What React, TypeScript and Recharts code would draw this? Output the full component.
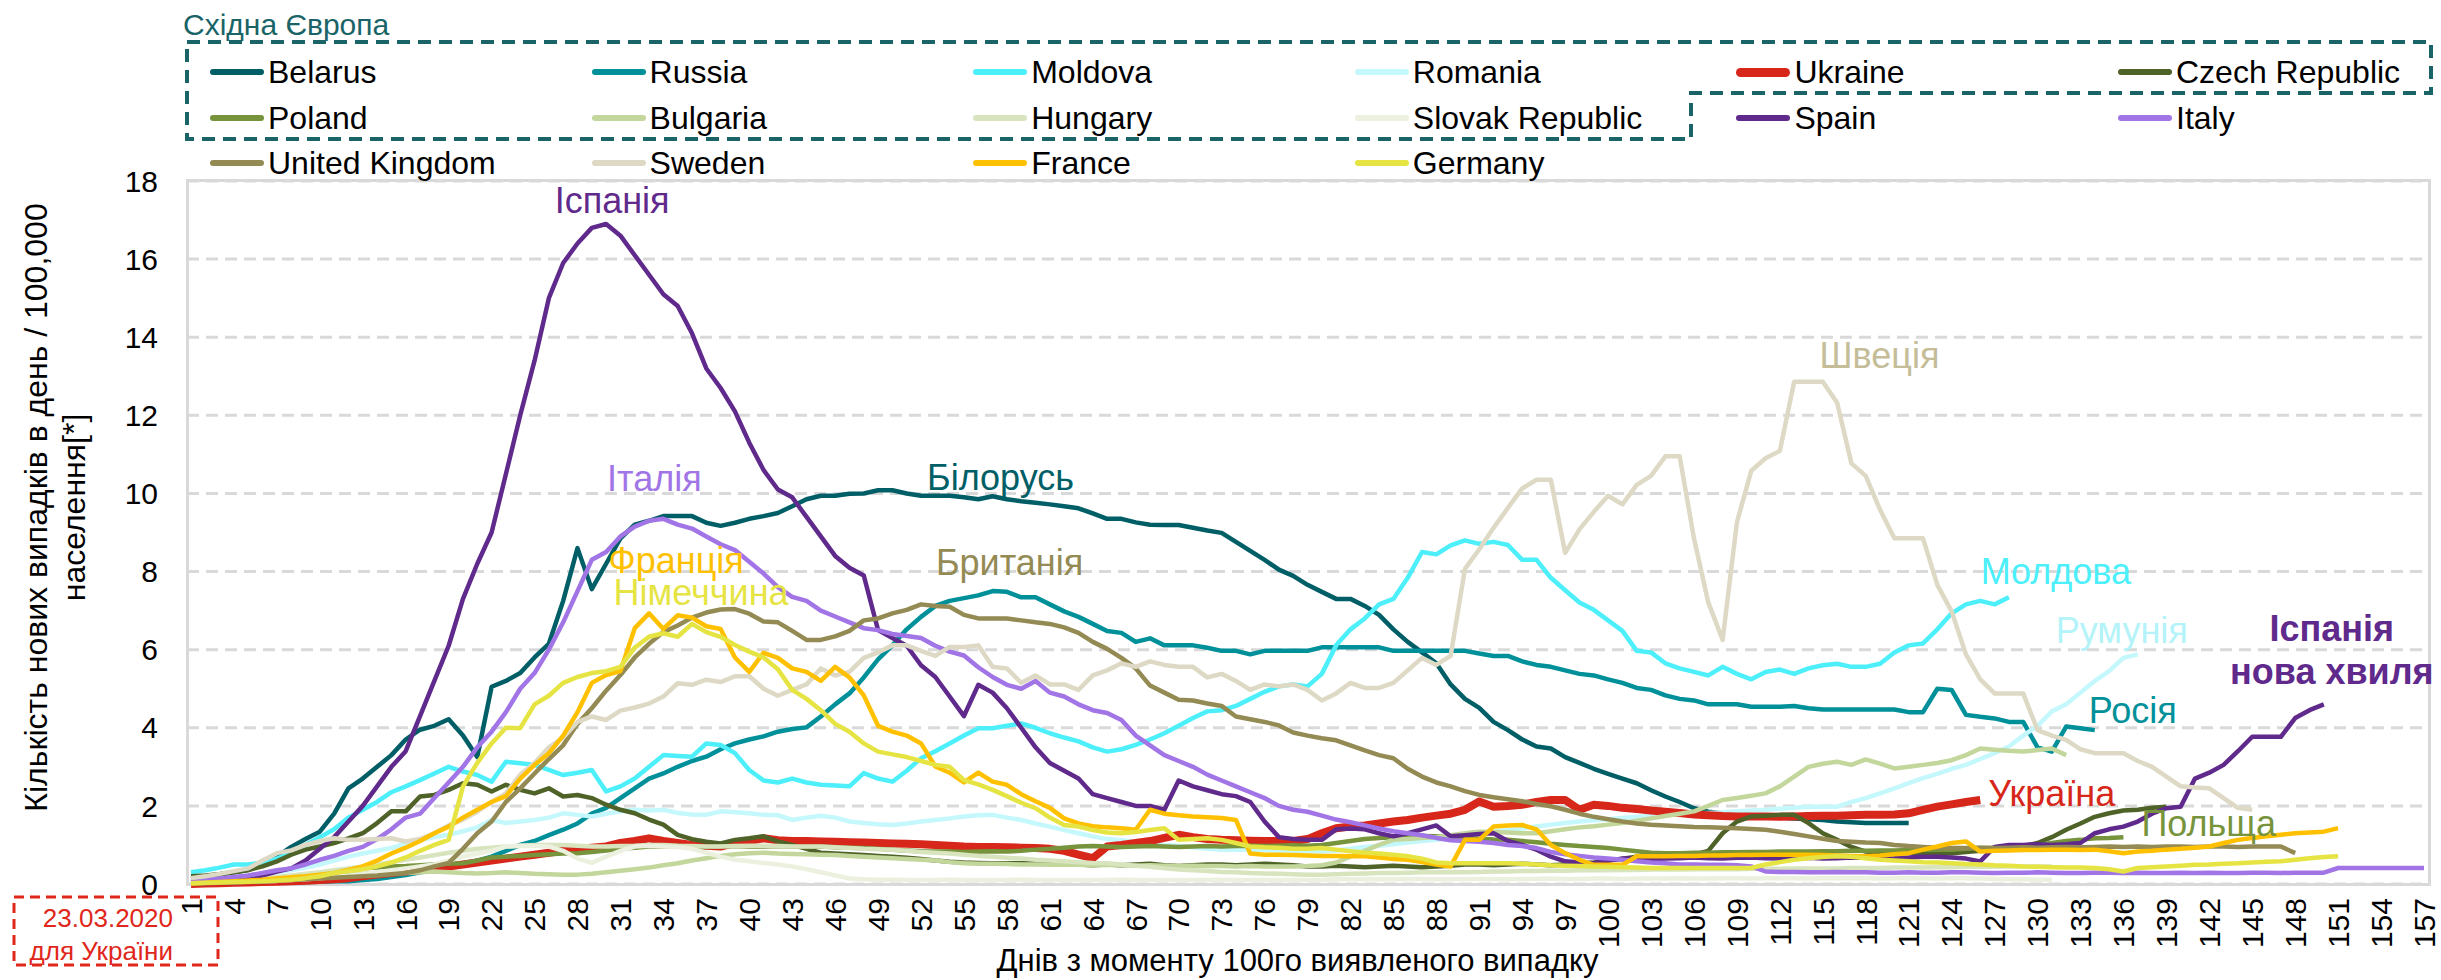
import React from 'react';
import { LineChart, Line, XAxis, YAxis, CartesianGrid, Legend, ReferenceDot } from 'recharts';

const FONT = '"Liberation Sans", Arial, sans-serif';

// new cases per day per 100,000 people, day 1 = day of the 100th case
const belarus = [0.15,0.2,0.25,0.3,0.36,0.5,0.7,0.95,1.15,1.34,1.8,2.45,2.7,3.0,3.3,3.7,3.95,4.05,4.22,3.8,3.25,5.05,5.2,5.4,5.8,6.15,7.25,8.6,7.55,8.2,8.85,9.2,9.3,9.42,9.42,9.42,9.25,9.17,9.25,9.35,9.42,9.5,9.67,9.85,9.94,9.94,9.99,10.0,10.08,10.08,10.0,9.94,9.94,9.94,9.9,9.85,9.93,9.85,9.8,9.76,9.72,9.67,9.62,9.49,9.35,9.35,9.26,9.2,9.19,9.19,9.12,9.05,8.99,8.76,8.53,8.3,8.05,7.89,7.66,7.48,7.3,7.3,7.12,6.89,6.52,6.2,5.93,5.65,5.11,4.74,4.51,4.15,3.94,3.7,3.52,3.47,3.25,3.1,2.95,2.82,2.7,2.58,2.4,2.24,2.1,1.94,1.85,1.81,1.78,1.75,1.73,1.7,1.68,1.66,1.64,1.6,1.58,1.56,1.56,1.56,1.56];
const russia = [0.03,0.03,0.03,0.03,0.04,0.04,0.05,0.05,0.05,0.06,0.07,0.07,0.1,0.13,0.18,0.23,0.3,0.36,0.42,0.5,0.6,0.7,0.85,1.0,1.1,1.25,1.39,1.55,1.8,1.95,2.2,2.45,2.7,2.83,3.0,3.15,3.26,3.45,3.6,3.7,3.78,3.9,3.97,4.01,4.29,4.6,4.88,5.29,5.75,6.11,6.52,6.84,7.12,7.25,7.32,7.39,7.5,7.48,7.34,7.34,7.16,6.98,6.84,6.66,6.48,6.43,6.2,6.29,6.11,6.11,6.11,6.05,5.97,5.97,5.88,5.97,5.97,5.97,5.97,6.06,6.06,6.06,6.06,6.06,5.97,5.97,5.97,5.97,5.97,5.97,5.9,5.84,5.84,5.7,5.61,5.56,5.47,5.38,5.34,5.24,5.15,5.02,4.97,4.83,4.74,4.7,4.6,4.6,4.6,4.54,4.54,4.54,4.56,4.5,4.47,4.47,4.47,4.47,4.47,4.47,4.4,4.4,5.0,4.97,4.33,4.28,4.24,4.15,4.15,3.5,3.39,4.03,3.99,3.94];
const moldova = [0.3,0.35,0.42,0.5,0.5,0.55,0.65,0.8,1.0,1.2,1.4,1.7,1.9,2.1,2.35,2.5,2.66,2.83,3.0,2.88,2.79,2.62,3.13,3.09,3.05,2.92,2.79,2.85,2.92,2.37,2.5,2.7,3.0,3.3,3.28,3.26,3.6,3.56,3.35,2.92,2.65,2.6,2.7,2.6,2.54,2.52,2.5,2.84,2.7,2.62,2.9,3.22,3.4,3.6,3.8,3.99,3.99,4.05,4.11,4.0,3.86,3.75,3.65,3.5,3.39,3.45,3.56,3.7,3.86,4.05,4.25,4.42,4.45,4.56,4.74,4.92,5.06,5.11,5.06,5.38,6.11,6.52,6.8,7.16,7.3,7.84,8.5,8.44,8.67,8.8,8.71,8.76,8.68,8.3,8.3,7.84,7.52,7.21,7.02,6.75,6.48,5.97,5.93,5.65,5.52,5.43,5.34,5.56,5.38,5.24,5.43,5.49,5.38,5.52,5.6,5.64,5.56,5.56,5.64,5.93,6.11,6.16,6.52,6.93,7.16,7.25,7.16,7.34];
const romania = [0.05,0.08,0.1,0.15,0.2,0.25,0.3,0.35,0.42,0.5,0.6,0.7,0.78,0.85,0.92,1.04,1.12,1.2,1.26,1.35,1.45,1.64,1.56,1.6,1.64,1.7,1.81,1.77,1.73,1.8,1.86,1.9,1.88,1.9,1.82,1.78,1.77,1.86,1.84,1.81,1.77,1.76,1.64,1.7,1.75,1.7,1.6,1.56,1.53,1.51,1.55,1.6,1.64,1.68,1.73,1.76,1.77,1.7,1.64,1.55,1.47,1.38,1.3,1.22,1.15,1.12,1.08,1.05,1.0,0.97,0.94,0.9,0.88,0.88,0.88,0.87,0.86,0.85,0.84,0.83,0.86,0.9,0.95,0.98,1.02,1.06,1.1,1.13,1.18,1.24,1.3,1.34,1.38,1.42,1.47,1.52,1.56,1.6,1.63,1.66,1.69,1.72,1.75,1.77,1.79,1.8,1.82,1.84,1.86,1.88,1.9,1.93,1.95,1.98,1.98,1.98,2.1,2.2,2.32,2.45,2.58,2.71,2.82,2.95,3.05,3.2,3.35,3.52,3.8,4.05,4.42,4.6,4.9,5.2,5.45,5.79,5.88];
const ukraine = [0.0,0.01,0.02,0.03,0.04,0.05,0.06,0.07,0.08,0.1,0.12,0.15,0.2,0.24,0.28,0.32,0.36,0.4,0.45,0.5,0.55,0.6,0.65,0.7,0.75,0.8,0.85,0.9,0.93,0.96,1.05,1.1,1.17,1.1,1.05,1.0,0.98,0.96,1.05,1.1,1.17,1.12,1.1,1.1,1.09,1.08,1.07,1.06,1.05,1.04,1.03,1.02,1.0,0.98,0.96,0.95,0.95,0.94,0.93,0.92,0.9,0.85,0.75,0.66,0.96,1.0,1.05,1.1,1.18,1.26,1.2,1.15,1.13,1.12,1.11,1.1,1.1,1.1,1.15,1.3,1.43,1.47,1.5,1.55,1.6,1.64,1.7,1.75,1.8,1.9,2.11,1.98,2.0,2.03,2.1,2.15,2.15,1.9,2.03,2.0,1.95,1.92,1.88,1.85,1.82,1.78,1.76,1.74,1.73,1.73,1.73,1.72,1.73,1.74,1.75,1.75,1.76,1.77,1.77,1.78,1.81,1.9,1.98,2.04,2.1,2.15];
const czech = [0.2,0.22,0.25,0.3,0.36,0.45,0.58,0.75,0.88,0.96,1.05,1.17,1.3,1.56,1.86,1.86,2.24,2.28,2.41,2.58,2.54,2.37,2.54,2.41,2.32,2.45,2.24,2.28,2.2,2.03,1.9,1.81,1.65,1.52,1.26,1.15,1.08,1.04,1.13,1.17,1.22,1.09,1.0,0.9,0.8,0.78,0.76,0.74,0.72,0.7,0.67,0.64,0.6,0.57,0.55,0.54,0.53,0.53,0.53,0.53,0.52,0.5,0.5,0.48,0.5,0.48,0.5,0.52,0.48,0.46,0.48,0.5,0.5,0.48,0.5,0.52,0.5,0.48,0.45,0.45,0.47,0.45,0.43,0.45,0.47,0.45,0.43,0.45,0.47,0.5,0.5,0.48,0.5,0.52,0.5,0.48,0.5,0.52,0.55,0.6,0.65,0.7,0.72,0.74,0.75,0.75,0.85,1.3,1.6,1.73,1.75,1.77,1.77,1.56,1.3,1.13,0.95,0.83,0.8,0.8,0.8,0.79,0.8,0.79,0.82,0.85,0.88,0.92,0.96,1.05,1.2,1.39,1.55,1.72,1.81,1.88,1.9,1.95,1.98];
const poland = [0.02,0.03,0.05,0.07,0.1,0.13,0.16,0.2,0.24,0.28,0.32,0.36,0.4,0.42,0.45,0.46,0.48,0.5,0.52,0.53,0.6,0.68,0.7,0.72,0.74,0.76,0.78,0.79,0.82,0.86,0.9,0.93,0.96,0.96,0.97,0.96,0.95,0.96,0.97,0.96,0.96,0.97,0.96,0.95,0.96,0.94,0.93,0.92,0.9,0.88,0.86,0.84,0.83,0.83,0.82,0.83,0.84,0.83,0.85,0.88,0.9,0.93,0.96,0.97,0.96,0.95,0.96,0.97,0.96,0.95,0.96,0.97,0.96,0.97,0.98,0.97,0.98,0.99,0.98,1.0,1.05,1.1,1.15,1.18,1.2,1.22,1.23,1.22,1.2,1.18,1.16,1.14,1.13,1.1,1.07,1.03,1.0,0.97,0.95,0.92,0.88,0.84,0.8,0.79,0.79,0.8,0.8,0.81,0.81,0.82,0.82,0.83,0.83,0.83,0.84,0.84,0.85,0.85,0.86,0.86,0.87,0.87,0.88,0.88,0.9,0.92,0.93,0.95,0.96,1.0,1.05,1.1,1.13,1.17,1.18,1.2];
const bulgaria = [0.05,0.06,0.07,0.08,0.1,0.12,0.14,0.16,0.18,0.2,0.22,0.24,0.26,0.27,0.28,0.28,0.3,0.32,0.3,0.28,0.27,0.28,0.3,0.28,0.26,0.25,0.24,0.24,0.26,0.3,0.34,0.38,0.42,0.48,0.53,0.6,0.66,0.72,0.76,0.79,0.8,0.78,0.77,0.76,0.75,0.74,0.72,0.7,0.68,0.66,0.64,0.62,0.6,0.56,0.53,0.52,0.52,0.51,0.5,0.5,0.49,0.5,0.49,0.48,0.49,0.48,0.47,0.48,0.47,0.46,0.47,0.46,0.46,0.45,0.46,0.45,0.45,0.45,0.46,0.48,0.55,0.7,0.85,1.0,1.13,1.15,1.18,1.2,1.25,1.3,1.34,1.33,1.32,1.3,1.3,1.35,1.4,1.45,1.48,1.52,1.56,1.62,1.68,1.74,1.8,1.86,2.0,2.15,2.2,2.26,2.32,2.5,2.75,3.0,3.08,3.13,3.05,3.19,3.08,2.96,3.0,3.05,3.1,3.17,3.3,3.47,3.44,3.41,3.39,3.43,3.47,3.3];
const hungary = [0.05,0.06,0.08,0.1,0.12,0.15,0.18,0.22,0.26,0.3,0.35,0.4,0.45,0.5,0.56,0.62,0.68,0.74,0.8,0.85,0.9,0.93,0.96,0.98,1.0,1.0,1.0,0.98,0.96,0.96,0.97,0.98,1.0,1.0,0.98,0.97,0.96,0.96,0.97,0.98,0.98,0.97,0.96,0.96,0.96,0.94,0.92,0.9,0.89,0.88,0.85,0.82,0.8,0.78,0.75,0.72,0.7,0.67,0.65,0.62,0.6,0.58,0.56,0.54,0.53,0.5,0.47,0.44,0.4,0.37,0.35,0.33,0.31,0.3,0.28,0.27,0.26,0.25,0.24,0.24,0.25,0.26,0.27,0.28,0.28,0.29,0.3,0.3,0.31,0.3,0.31,0.32,0.32,0.33,0.33,0.34,0.34,0.35,0.35,0.35,0.36,0.36,0.37,0.37,0.37,0.38,0.38,0.38,0.38,0.39,0.39,0.39,0.4,0.4,0.4,0.4,0.41,0.41,0.41,0.42,0.42,0.42,0.43,0.43,0.44,0.44,0.44,0.45,0.45,0.45,0.45];
const slovakia = [0.02,0.03,0.04,0.05,0.06,0.07,0.08,0.1,0.12,0.15,0.18,0.21,0.25,0.3,0.35,0.4,0.45,0.5,0.6,0.7,0.78,0.85,0.96,0.98,0.97,0.96,0.85,0.65,0.54,0.7,0.85,0.96,0.98,0.96,0.95,0.9,0.8,0.7,0.62,0.58,0.54,0.5,0.45,0.38,0.3,0.22,0.14,0.12,0.11,0.11,0.1,0.1,0.1,0.11,0.1,0.1,0.1,0.1,0.11,0.1,0.1,0.1,0.1,0.1,0.1,0.11,0.1,0.1,0.1,0.1,0.1,0.1,0.11,0.1,0.1,0.1,0.1,0.1,0.1,0.1,0.12,0.12,0.13,0.12,0.12,0.13,0.13,0.12,0.12,0.13,0.13,0.13,0.12,0.13,0.13,0.14,0.13,0.13,0.14,0.14,0.13,0.14,0.14,0.14,0.15,0.14,0.14,0.15,0.15,0.14,0.15,0.15,0.15,0.14,0.15,0.15,0.15,0.15,0.14,0.15,0.15,0.15,0.14,0.15,0.15,0.14,0.13,0.12,0.12,0.11,0.11];
const spain = [0.03,0.05,0.08,0.1,0.15,0.22,0.32,0.4,0.6,0.9,1.2,1.6,2.0,2.5,3.0,3.4,4.3,5.2,6.1,7.3,8.2,9.0,10.5,12.0,13.4,15.0,15.9,16.4,16.8,16.9,16.6,16.1,15.6,15.1,14.8,14.1,13.2,12.7,12.1,11.3,10.6,10.1,9.9,9.4,8.9,8.4,8.1,7.9,6.5,6.3,6.1,5.6,5.3,4.8,4.3,5.1,4.9,4.5,4.0,3.5,3.1,2.9,2.7,2.3,2.2,2.1,2.0,2.0,1.9,2.65,2.5,2.4,2.3,2.25,2.1,1.6,1.2,1.15,1.13,1.13,1.4,1.42,1.4,1.3,1.22,1.3,1.4,1.5,1.22,1.25,1.28,1.3,1.1,1.0,0.88,0.7,0.58,0.55,0.53,0.6,0.65,0.66,0.64,0.65,0.66,0.68,0.66,0.65,0.67,0.68,0.66,0.65,0.66,0.67,0.65,0.66,0.68,0.67,0.65,0.66,0.68,0.7,0.7,0.68,0.65,0.58,0.95,1.0,1.0,1.02,1.0,1.02,1.05,1.3,1.4,1.47,1.6,1.8,1.94,1.98,2.7,2.85,3.05,3.4,3.77,3.77,3.77,4.25,4.45,4.6];
const italy = [0.07,0.1,0.14,0.18,0.22,0.28,0.35,0.4,0.5,0.62,0.72,0.85,0.95,1.15,1.4,1.7,1.8,2.2,2.6,3.0,3.5,3.9,4.4,5.0,5.4,6.0,6.7,7.5,8.3,8.5,8.9,9.15,9.3,9.35,9.2,9.1,8.9,8.7,8.55,8.25,7.95,7.6,7.35,7.25,7.0,6.85,6.7,6.55,6.5,6.4,6.35,6.3,6.1,5.95,5.85,5.55,5.3,5.1,5.0,5.2,4.9,4.8,4.6,4.45,4.38,4.2,3.8,3.55,3.3,3.15,3.0,2.8,2.65,2.5,2.35,2.2,2.0,1.9,1.85,1.75,1.65,1.58,1.5,1.42,1.35,1.3,1.25,1.18,1.12,1.1,1.08,1.05,1.0,0.97,0.92,0.82,0.76,0.72,0.68,0.65,0.62,0.58,0.55,0.53,0.5,0.5,0.49,0.49,0.48,0.45,0.32,0.31,0.31,0.3,0.3,0.31,0.3,0.3,0.29,0.29,0.3,0.29,0.29,0.3,0.3,0.29,0.28,0.29,0.29,0.3,0.29,0.28,0.28,0.29,0.29,0.28,0.29,0.28,0.28,0.29,0.28,0.29,0.28,0.28,0.29,0.29,0.28,0.29,0.29,0.29,0.41,0.41,0.41,0.41,0.41,0.41,0.41];
const uk = [0.01,0.02,0.03,0.04,0.05,0.06,0.08,0.1,0.12,0.14,0.16,0.18,0.2,0.22,0.25,0.28,0.35,0.45,0.54,0.9,1.3,1.6,2.1,2.45,2.83,3.2,3.55,4.1,4.5,4.95,5.35,5.8,6.15,6.45,6.62,6.82,6.95,7.03,7.04,6.92,6.72,6.7,6.48,6.25,6.25,6.34,6.48,6.75,6.8,6.93,7.02,7.16,7.12,7.1,6.89,6.8,6.8,6.8,6.75,6.7,6.66,6.57,6.43,6.2,6.02,5.79,5.52,5.08,4.9,4.72,4.7,4.62,4.56,4.29,4.22,4.15,4.06,3.88,3.8,3.73,3.68,3.55,3.42,3.3,3.22,2.95,2.75,2.6,2.5,2.38,2.28,2.22,2.17,2.12,2.05,1.99,1.9,1.8,1.72,1.66,1.6,1.55,1.52,1.5,1.48,1.46,1.45,1.44,1.43,1.41,1.39,1.34,1.28,1.22,1.16,1.1,1.08,1.06,1.05,1.0,0.97,0.95,0.93,0.92,0.92,0.93,0.92,0.93,0.94,0.93,0.94,0.95,0.94,0.95,0.96,0.95,0.96,0.95,0.96,0.96,0.95,0.96,0.96,0.95,0.96,0.96,0.96,0.79];
const sweden = [0.15,0.2,0.26,0.33,0.4,0.6,0.79,0.86,1.0,1.1,1.17,1.13,1.13,1.15,1.17,1.09,1.15,1.3,1.5,1.65,1.85,2.1,2.32,2.8,3.1,3.5,3.75,4.15,4.29,4.2,4.44,4.52,4.62,4.8,5.14,5.1,5.23,5.17,5.32,5.32,5.0,4.82,4.97,5.11,5.52,5.34,5.43,5.79,5.93,6.11,6.11,5.97,5.84,6.07,6.07,6.11,5.56,5.52,5.15,5.34,5.11,5.11,4.97,5.34,5.47,5.65,5.56,5.7,5.61,5.56,5.56,5.29,5.38,5.2,4.97,5.11,5.06,5.11,4.97,4.7,4.88,5.15,5.02,5.02,5.15,5.47,5.79,5.61,5.84,8.07,8.57,9.12,9.63,10.13,10.35,10.35,8.48,9.08,9.53,9.94,9.72,10.22,10.45,10.95,10.95,8.85,7.21,6.25,9.26,10.58,10.9,11.09,12.86,12.86,12.86,12.32,10.77,10.45,9.58,8.85,8.85,8.85,7.66,6.98,5.88,5.24,4.88,4.88,4.88,3.94,3.8,3.69,3.45,3.35,3.35,3.35,3.15,3.0,2.75,2.5,2.47,2.45,2.2,1.95,1.9];
const france = [0.02,0.03,0.05,0.07,0.09,0.11,0.14,0.17,0.2,0.24,0.28,0.36,0.45,0.6,0.78,0.93,1.1,1.3,1.47,1.7,1.9,2.1,2.25,2.7,3.05,3.35,3.8,4.4,5.15,5.35,5.45,6.55,6.93,6.53,6.88,6.82,6.6,6.53,5.8,5.43,5.92,5.79,5.52,5.43,5.2,5.56,5.29,4.83,4.05,3.9,3.8,3.6,3.01,2.85,2.6,2.85,2.62,2.54,2.3,2.12,1.95,1.68,1.55,1.48,1.45,1.43,1.39,1.9,1.8,1.76,1.73,1.71,1.69,1.64,0.78,0.75,0.75,0.74,0.73,0.72,0.72,0.71,0.71,0.68,0.64,0.62,0.56,0.5,0.45,1.13,1.13,1.47,1.5,1.51,1.4,1.0,0.79,0.62,0.49,0.49,0.49,0.71,0.71,0.71,0.72,0.72,0.73,0.73,0.74,0.74,0.75,0.75,0.75,0.75,0.74,0.73,0.72,0.71,0.73,0.76,0.79,0.88,0.96,1.05,1.09,0.83,0.85,0.86,0.87,0.87,0.88,0.88,0.87,0.88,0.84,0.79,0.83,0.85,0.88,0.9,0.93,0.96,1.05,1.13,1.18,1.22,1.26,1.3,1.32,1.34,1.43];
const germany = [0.02,0.03,0.04,0.05,0.06,0.07,0.09,0.11,0.15,0.2,0.28,0.33,0.38,0.45,0.55,0.68,0.85,1.0,1.13,2.5,3.1,3.6,4.0,3.99,4.6,4.82,5.15,5.3,5.4,5.45,5.56,6.05,6.33,6.42,6.33,6.66,6.45,6.33,6.12,5.95,5.8,5.5,4.97,4.74,4.45,4.1,3.9,3.6,3.39,3.32,3.25,3.15,3.05,3.0,2.66,2.55,2.41,2.25,2.08,1.94,1.7,1.51,1.47,1.38,1.32,1.3,1.33,1.38,1.43,1.13,1.15,1.17,1.13,1.05,0.96,0.94,0.93,0.9,0.9,0.92,0.88,0.84,0.8,0.78,0.75,0.71,0.65,0.55,0.53,0.53,0.53,0.53,0.53,0.52,0.5,0.48,0.47,0.46,0.45,0.44,0.43,0.42,0.41,0.41,0.41,0.41,0.41,0.41,0.41,0.41,0.5,0.56,0.62,0.66,0.69,0.71,0.7,0.66,0.62,0.6,0.58,0.56,0.55,0.53,0.51,0.5,0.48,0.47,0.45,0.44,0.43,0.42,0.42,0.41,0.38,0.32,0.41,0.43,0.45,0.47,0.49,0.5,0.52,0.53,0.55,0.57,0.58,0.62,0.66,0.69,0.71];

const series = [
  { name: 'Belarus', color: '#005E66', values: belarus },
  { name: 'Russia', color: '#00909A', values: russia },
  { name: 'Moldova', color: '#4CEFFA', values: moldova },
  { name: 'Romania', color: '#C5F8FC', values: romania },
  { name: 'Ukraine', color: '#D7261A', values: ukraine, width: 8 },
  { name: 'Czech Republic', color: '#4F6228', values: czech },
  { name: 'Poland', color: '#77933C', values: poland },
  { name: 'Bulgaria', color: '#C3D69B', values: bulgaria },
  { name: 'Hungary', color: '#D7E4BD', values: hungary },
  { name: 'Slovak Republic', color: '#EBF1DE', values: slovakia },
  { name: 'Spain', color: '#5F2A8C', values: spain },
  { name: 'Italy', color: '#A275E6', values: italy },
  { name: 'United Kingdom', color: '#948A54', values: uk },
  { name: 'Sweden', color: '#DDD9C4', values: sweden },
  { name: 'France', color: '#FFC000', values: france },
  { name: 'Germany', color: '#E5E443', values: germany },
];

const days = Array.from({ length: 157 }, (_, i) => i + 1);
const dayTicks = days.filter((d) => (d - 1) % 3 === 0);
const valueTicks = [0, 2, 4, 6, 8, 10, 12, 14, 16, 18];

const data = days.map((day, i) => {
  const row: Record<string, number | null> = { day };
  series.forEach((s) => {
    row[s.name] = i < s.values.length ? s.values[i] : null;
  });
  return row;
});

// labels written next to the lines, anchored on a point of the series
type Note = { key: string; day: number; text: string[]; dx: number; dy: number; color: string; anchor?: string; bold?: boolean };
const notes: Note[] = [
  { key: 'Spain', day: 30, text: ['Іспанія'], dx: 6, dy: -11, color: '#5F2A8C' },
  { key: 'Italy', day: 34, text: ['Італія'], dx: -9, dy: -28, color: '#A275E6' },
  { key: 'Belarus', day: 57, text: ['Білорусь'], dx: 8, dy: -6, color: '#005E66' },
  { key: 'United Kingdom', day: 57, text: ['Британія'], dx: 17, dy: -43, color: '#948A54' },
  { key: 'France', day: 33, text: ['Франція'], dx: 27, dy: -40, color: '#FFC000' },
  { key: 'Germany', day: 36, text: ['Німеччина'], dx: 9, dy: -19, color: '#E5E443' },
  { key: 'Sweden', day: 114, text: ['Швеція'], dx: 71, dy: -14, color: '#C4BD97' },
  { key: 'Moldova', day: 128, text: ['Молдова'], dx: 47, dy: -13, color: '#4CEFFA' },
  { key: 'Romania', day: 137, text: ['Румунія'], dx: -16, dy: -11, color: '#B3F3F9' },
  { key: 'Russia', day: 134, text: ['Росія'], dx: 38, dy: -7, color: '#00909A' },
  { key: 'Ukraine', day: 126, text: ['Україна'], dx: 8, dy: 6, color: '#D7261A', anchor: 'start' },
  { key: 'Poland', day: 136, text: ['Польща'], dx: 18, dy: -1, color: '#77933C', anchor: 'start' },
  { key: 'Spain', day: 150, text: ['Іспанія', 'нова хвиля'], dx: 8, dy: -63, color: '#5F2A8C', bold: true },
];

const renderNote = (n: Note) => (p: any) => {
  const vb = p.viewBox || {};
  const cx = (vb.x ?? 0) + (vb.width ?? 0) / 2 + n.dx;
  const cy = (vb.y ?? 0) + (vb.height ?? 0) / 2 + n.dy;
  return (
    <text x={cx} y={cy} textAnchor={n.anchor || 'middle'} fontSize={36} fontWeight={n.bold ? 700 : 400} fill={n.color} fontFamily={FONT}>
      {n.text.map((t, k) => (
        <tspan key={k} x={cx} dy={k === 0 ? 0 : 43}>{t}</tspan>
      ))}
    </text>
  );
};

const XTick = (p: any) => {
  const { x, y, payload } = p;
  return (
    <text x={x} y={y} transform={`rotate(-90 ${x} ${y})`} textAnchor="end" dy="0.36em" fontSize={30} fill="#000" fontFamily={FONT}>
      {payload.value}
    </text>
  );
};

const YTitle = (p: any) => {
  const vb = p.viewBox || { x: 100, y: 181, width: 87, height: 703 };
  const cy = vb.y + vb.height / 2 - 25;
  const x1 = vb.x - 53;
  const x2 = vb.x - 15;
  return (
    <g fontSize={32} fill="#000" fontFamily={FONT} textAnchor="middle">
      <text x={x1} y={cy} transform={`rotate(-90 ${x1} ${cy})`}>Кількість нових випадків в день / 100,000</text>
      <text x={x2} y={cy} transform={`rotate(-90 ${x2} ${cy})`}>населення[*]</text>
    </g>
  );
};

const XTitle = (p: any) => {
  const vb = p.viewBox || { x: 187, y: 884, width: 2243, height: 96 };
  return (
    <text x={vb.x + vb.width / 2 - 11} y={vb.y + 87} textAnchor="middle" fontSize={31} fill="#000" fontFamily={FONT}>
      Днів з моменту 100го виявленого випадку
    </text>
  );
};

const LegendBlock = (props: any) => {
  const order = series.map((s) => s.name);
  const items = [...(props.payload || [])].sort((a: any, b: any) => order.indexOf(a.value) - order.indexOf(b.value));
  return (
    <div style={{ position: 'relative', width: 2441, height: 180, fontFamily: FONT }}>
      <svg width={2441} height={180} style={{ position: 'absolute', left: 0, top: 0 }}>
        <text x={183} y={35} fontSize={30} fill="#1A6467" fontFamily={FONT}>Східна Європа</text>
        <path d="M187 42 H2431 V93 H1691 V139 H187 Z" fill="none" stroke="#1A6467" strokeWidth={4} strokeDasharray="13 8" />
      </svg>
      {items.map((item: any, i: number) => {
        const col = i % 6;
        const row = Math.floor(i / 6);
        const cy = [72, 118, 163][row];
        const thick = item.value === 'Ukraine' ? 9 : 6;
        return (
          <div key={item.value} style={{ position: 'absolute', left: 210 + col * 381.6, top: cy - 20, height: 40, display: 'flex', alignItems: 'center', whiteSpace: 'nowrap' }}>
            <span style={{ display: 'inline-block', width: 54, height: thick, borderRadius: thick / 2, background: item.color, marginRight: 4 }} />
            <span style={{ fontSize: 32, lineHeight: '40px', color: '#000' }}>{item.value}</span>
          </div>
        );
      })}
    </div>
  );
};

export default function App() {
  return (
    <div style={{ position: 'absolute', left: 0, top: 0, width: 2441, height: 980, background: '#fff', fontFamily: FONT }}>
      <div style={{ position: 'absolute', left: 186, top: 179, width: 2245, height: 707, border: '3px solid #D9D9D9', boxSizing: 'border-box' }} />
      <LineChart width={2441} height={980} data={data} margin={{ top: 181, right: 11, bottom: 0, left: 100 }}>
        <CartesianGrid vertical={false} stroke="#D9D9D9" strokeWidth={3} strokeDasharray="12 7" />
        <XAxis
          dataKey="day"
          type="number"
          domain={[1, 157]}
          ticks={dayTicks}
          interval={0}
          padding={{ left: 4, right: 6 }}
          height={96}
          axisLine={false}
          tickLine={false}
          tickSize={0}
          tickMargin={14}
          tick={<XTick />}
          label={{ content: XTitle }}
        />
        <YAxis
          type="number"
          domain={[0, 18]}
          ticks={valueTicks}
          interval={0}
          width={87}
          axisLine={false}
          tickLine={false}
          tickSize={0}
          tickMargin={29}
          tick={{ fontSize: 30, fill: '#000', fontFamily: FONT }}
          label={{ content: YTitle }}
        />
        <Legend verticalAlign="middle" align="center" layout="horizontal" wrapperStyle={{ top: 0, left: 0, width: 2441, height: 180 }} content={LegendBlock} />
        {series.map((s) => (
          <Line
            key={s.name}
            type="linear"
            dataKey={s.name}
            name={s.name}
            stroke={s.color}
            strokeWidth={s.width || 4.5}
            strokeLinejoin="round"
            dot={false}
            activeDot={false}
            connectNulls={false}
            isAnimationActive={false}
          />
        ))}
        {notes.map((n, i) => {
          const s = series.find((q) => q.name === n.key)!;
          return (
            <ReferenceDot
              key={i}
              x={n.day}
              y={s.values[n.day - 1]}
              r={0}
              fill="none"
              stroke="none"
              ifOverflow="visible"
              label={{ content: renderNote(n) }}
            />
          );
        })}
      </LineChart>
      <svg width={240} height={80} style={{ position: 'absolute', left: 0, top: 890 }}>
        <rect x={14} y={7} width={204} height={68} fill="none" stroke="#E0271B" strokeWidth={3} strokeDasharray="10 6" />
        <text x={173} y={37} textAnchor="end" fontSize={26} fill="#E0271B" fontFamily={FONT}>23.03.2020</text>
        <text x={173} y={70} textAnchor="end" fontSize={26} fill="#E0271B" fontFamily={FONT}>для України</text>
      </svg>
    </div>
  );
}
